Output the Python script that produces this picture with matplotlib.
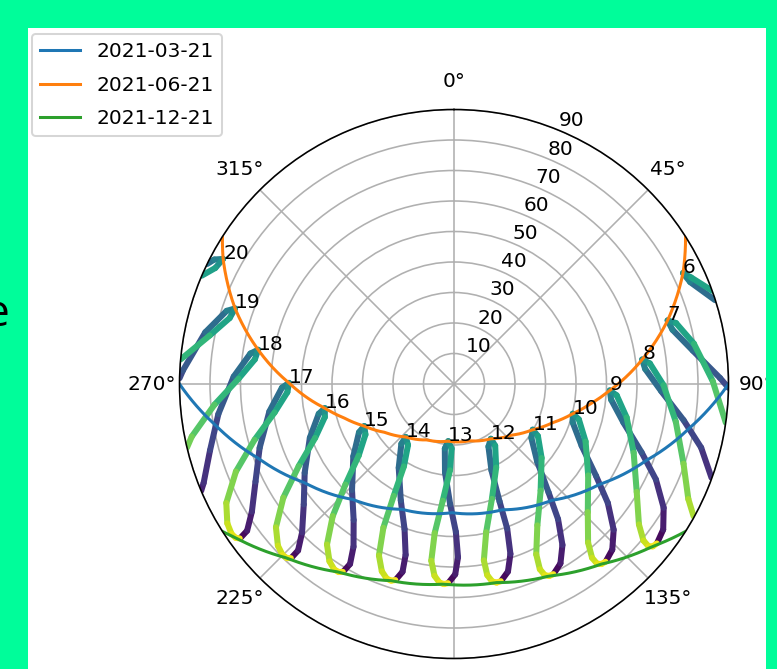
import numpy as np
import matplotlib
matplotlib.use("Agg")
import matplotlib.pyplot as plt
from matplotlib.collections import LineCollection
from matplotlib.colors import Normalize
from matplotlib.patches import Rectangle

# day of year for the sampled sun positions (full-year hours)
days = [1, 20, 41, 64, 87, 115, 145, 172, 199, 227, 255, 283, 309, 329, 344, 355, 365]

# sun azimuth / apparent zenith in degrees at each clock hour
az_09 = [128.02, 124.84, 120.56, 115.32, 110.00, 102.82, 95.66, 92.36, 93.99, 100.97, 110.95, 120.56, 127.21, 129.56, 129.85, 129.23, 128.17]
zen_09 = [84.57, 83.57, 79.83, 73.24, 65.43, 56.97, 51.76, 51.12, 53.48, 57.66, 63.08, 69.57, 76.13, 80.55, 83.05, 84.16, 84.58]
az_10 = [139.41, 136.31, 132.40, 127.72, 122.91, 115.83, 107.94, 104.03, 105.81, 113.63, 124.26, 133.75, 139.78, 141.54, 141.48, 140.69, 139.56]
zen_10 = [76.54, 75.13, 70.89, 63.77, 55.49, 46.49, 40.90, 40.14, 42.55, 47.10, 53.23, 60.73, 68.08, 72.77, 75.28, 76.30, 76.57]
az_11 = [152.26, 149.33, 146.03, 142.41, 138.88, 132.97, 124.89, 120.11, 121.79, 130.20, 140.89, 149.48, 154.23, 155.13, 154.60, 153.61, 152.41]
zen_11 = [70.29, 68.41, 63.63, 55.93, 47.12, 37.27, 30.93, 29.84, 32.37, 37.61, 45.03, 53.81, 62.02, 66.93, 69.39, 70.26, 70.34]
az_12 = [166.51, 163.95, 161.64, 159.81, 158.80, 156.54, 151.16, 146.04, 146.28, 153.22, 161.73, 167.76, 170.39, 170.13, 169.06, 167.88, 166.65]
zen_12 = [66.37, 63.99, 58.72, 50.53, 41.30, 30.84, 23.42, 21.64, 24.32, 30.68, 39.66, 49.74, 58.63, 63.60, 65.92, 66.59, 66.45]
az_13 = [181.60, 179.63, 178.67, 179.27, 181.85, 185.81, 188.10, 185.76, 182.13, 182.66, 185.50, 187.38, 187.32, 185.81, 184.21, 182.89, 181.72]
zen_13 = [65.22, 62.40, 56.81, 48.50, 39.41, 29.11, 21.37, 18.83, 21.21, 28.32, 38.42, 49.27, 58.41, 63.21, 65.26, 65.69, 65.32]
az_14 = [196.58, 195.33, 195.81, 198.82, 204.58, 213.44, 221.35, 222.36, 217.00, 211.31, 208.31, 206.17, 203.64, 201.08, 199.08, 197.72, 196.67]
zen_14 = [66.98, 63.85, 58.22, 50.26, 41.95, 32.89, 26.12, 23.49, 25.04, 31.62, 41.68, 52.49, 61.38, 65.80, 67.51, 67.69, 67.10]
az_15 = [210.56, 210.01, 211.70, 216.41, 223.87, 234.30, 243.05, 244.90, 240.29, 233.07, 227.20, 222.56, 218.36, 215.08, 212.85, 211.51, 210.63]
zen_15 = [71.43, 68.14, 62.70, 55.43, 48.25, 40.64, 34.94, 32.49, 33.43, 39.10, 48.51, 58.78, 67.11, 71.04, 72.39, 72.32, 71.57]
az_16 = [223.09, 223.13, 225.65, 231.29, 239.26, 249.55, 257.60, 259.42, 255.63, 248.78, 242.15, 236.34, 231.17, 227.46, 225.13, 223.86, 223.14]
zen_16 = [78.09, 74.77, 69.66, 63.13, 56.96, 50.44, 45.40, 43.07, 43.72, 48.83, 57.58, 67.22, 74.94, 78.37, 79.38, 79.12, 78.24]
az_17 = [234.20, 234.66, 237.73, 243.83, 251.82, 261.55, 268.78, 270.39, 267.18, 260.98, 254.38, 248.13, 242.41, 238.42, 236.02, 234.81, 234.22]
zen_17 = [86.44, 83.15, 78.37, 72.51, 67.07, 61.19, 56.42, 54.12, 54.70, 59.56, 67.89, 77.05, 84.24, 87.24, 87.96, 87.55, 86.59]

# hours when the sun is only up part of the year
days_06 = [115, 145, 172, 199, 224]
az_06 = [72.17, 66.66, 64.16, 65.81, 70.13]
zen_06 = [89.87, 84.34, 83.42, 85.23, 90.0]
days_07 = [78, 87, 115, 145, 172, 199, 227, 255, 281]
az_07 = [90.80, 88.71, 82.03, 76.08, 73.42, 74.64, 80.46, 89.40, 98.09]
zen_07 = [90.0, 87.25, 79.05, 73.82, 73.07, 75.48, 79.77, 84.85, 90.0]
days_08 = [41, 64, 87, 115, 145, 172, 199, 227, 255, 283, 309, 329]
az_08 = [110.02, 104.44, 98.93, 91.97, 85.48, 82.58, 84.00, 90.31, 99.68, 109.15, 116.15, 118.91]
zen_08 = [89.87, 83.68, 76.18, 67.97, 62.86, 62.21, 64.57, 68.70, 73.78, 79.66, 85.59, 89.74]
days_18 = [33, 41, 64, 87, 115, 145, 172, 199, 227, 255, 283, 292]
az_18 = [247.08, 248.42, 254.79, 262.71, 271.93, 278.51, 279.92, 277.05, 271.43, 265.08, 258.67, 256.60]
zen_18 = [90.0, 88.28, 82.89, 77.90, 72.27, 67.50, 65.18, 65.79, 70.63, 78.81, 87.69, 90.0]
days_19 = [82, 87, 115, 145, 172, 199, 227, 255]
az_19 = [271.21, 272.86, 281.75, 287.84, 289.04, 286.39, 281.23, 275.19]
zen_19 = [90.0, 88.99, 83.29, 78.30, 75.93, 76.66, 81.66, 89.91]
days_20 = [137, 145, 172, 199, 215]
az_20 = [295.92, 297.45, 298.44, 295.92, 293.25]
zen_20 = [90.0, 88.55, 86.09, 87.01, 90.0]

# sun path on the equinox and the two solstices
date_labels = ["2021-03-21", "2021-06-21", "2021-12-21"]
march_az = [90.0, 90.37, 100.59, 111.62, 124.40, 139.95, 159.01, 180.82, 202.50, 221.30, 236.62, 249.23, 260.18, 270.0]
march_zen = [90.0, 89.59, 78.55, 67.88, 58.07, 49.83, 44.17, 42.20, 44.47, 50.36, 58.75, 68.64, 79.35, 90.0]
june_az = [57.52, 64.16, 73.42, 82.58, 92.36, 97.86, 104.03, 111.26, 120.11, 131.37, 146.04, 164.65, 185.76,
           205.87, 222.36, 235.07, 244.90, 252.81, 259.42, 270.39, 279.92, 289.04, 298.44, 302.48]
june_zen = [90.0, 83.42, 73.07, 62.21, 51.12, 45.58, 40.14, 34.84, 29.84, 25.32, 21.64, 19.30, 18.83,
            20.36, 23.49, 27.68, 32.49, 37.69, 43.07, 54.12, 65.18, 75.93, 86.09, 90.0]
december_az = [122.48, 129.23, 140.69, 153.61, 167.88, 182.89, 197.72, 211.51, 223.86, 234.81, 237.52]
december_zen = [90.0, 84.16, 76.30, 70.26, 66.59, 65.69, 67.69, 72.32, 79.12, 87.55, 90.0]

analemmas = {
    6: (days_06, az_06, zen_06), 7: (days_07, az_07, zen_07), 8: (days_08, az_08, zen_08),
    9: (days, az_09, zen_09), 10: (days, az_10, zen_10), 11: (days, az_11, zen_11),
    12: (days, az_12, zen_12), 13: (days, az_13, zen_13), 14: (days, az_14, zen_14),
    15: (days, az_15, zen_15), 16: (days, az_16, zen_16), 17: (days, az_17, zen_17),
    18: (days_18, az_18, zen_18), 19: (days_19, az_19, zen_19), 20: (days_20, az_20, zen_20),
}

W, H, DPI = 777, 669, 145
fig = plt.figure(figsize=(W / DPI, H / DPI), dpi=DPI, facecolor="white")
ax = fig.add_axes([179.5 / W, 10.5 / H, 549 / W, 549 / H], projection="polar")

norm = Normalize(1, 365)
for hour, (d, az, zen) in analemmas.items():
    pts = np.column_stack([np.radians(az), zen])
    segs = np.stack([pts[:-1], pts[1:]], axis=1)
    mid_day = (np.array(d[:-1]) + np.array(d[1:])) / 2
    lc = LineCollection(segs, cmap="viridis", norm=norm, linewidths=3.0,
                        capstyle="round", joinstyle="round")
    lc.set_array(mid_day)
    ax.add_collection(lc, autolim=False)

    # label each hour where the sun stands highest
    i = int(np.argmin(zen))
    ax.text(np.radians(az[i]), zen[i], str(hour))

for label, az, zen in zip(date_labels, [march_az, june_az, december_az],
                          [march_zen, june_zen, december_zen]):
    line, = ax.plot(np.radians(az), zen, label=label)
    # draw the segments as spirals in (theta, r), like the polar grid
    line.get_path()._interpolation_steps = 40

ax.set_theta_zero_location("N")
ax.set_theta_direction(-1)
ax.set_rlim(0, 90)
ax.set_rticks(np.arange(10, 91, 10))

fig.legend(loc="upper left", bbox_to_anchor=(31.7 / W, 1 - 34.3 / H),
           borderaxespad=0, labelspacing=0.72)

# slide border around the screenshot
green = "#00fd9a"
for x0, y0, w, h in [(0, 0, 28 / W, 1), (0, 1 - 28 / H, 1, 28 / H), (765.5 / W, 0, 1, 1)]:
    fig.add_artist(Rectangle((x0, y0), w, h, transform=fig.transFigure,
                             facecolor=green, edgecolor="none", zorder=10))
fig.text(9 / W, 1 - 326 / H, "e", fontsize=22, family="Open Sans",
         ha="right", va="baseline", color="black", zorder=11)

fig.savefig("out.png", dpi=DPI)
